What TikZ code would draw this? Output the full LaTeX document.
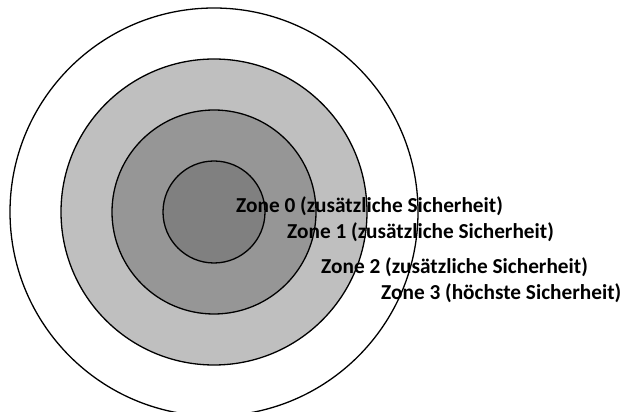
\documentclass[tikz,border=0pt]{standalone}
\usepackage{fontspec}
\setmainfont{Carlito}

\begin{document}
\begin{tikzpicture}[
    x=1pt, y=1pt,
    ring line/.style={line width=1.3pt},
    zone label/.style={anchor=west, inner sep=0pt, font=\fontsize{21.3}{24}\selectfont\bfseries}
]
    \useasboundingbox (0,0) rectangle (621,412);

    % Centre and radius step
    \def\cx{214}
    \def\cy{200}
    \def\dr{51}

    % Rings, outside in
    \draw[ring line, fill=white] (\cx,\cy) circle (4*\dr);
    \draw[ring line, fill=black!25] (\cx,\cy) circle (3*\dr);
    \draw[ring line, fill=black!41] (\cx,\cy) circle (2*\dr);
    \draw[ring line, fill=black!50] (\cx,\cy) circle (\dr);

    % Zone labels
    \node[zone label] (zone0) at (236,206) {Zone 0 (zusätzliche Sicherheit)};
    \node[zone label] (zone1) at (287,180) {Zone 1 (zusätzliche Sicherheit)};
    \node[zone label] (zone2) at (321,145) {Zone 2 (zusätzliche Sicherheit)};
    \node[zone label] (zone3) at (381,119) {Zone 3 (höchste Sicherheit)};

\end{tikzpicture}
\end{document}
